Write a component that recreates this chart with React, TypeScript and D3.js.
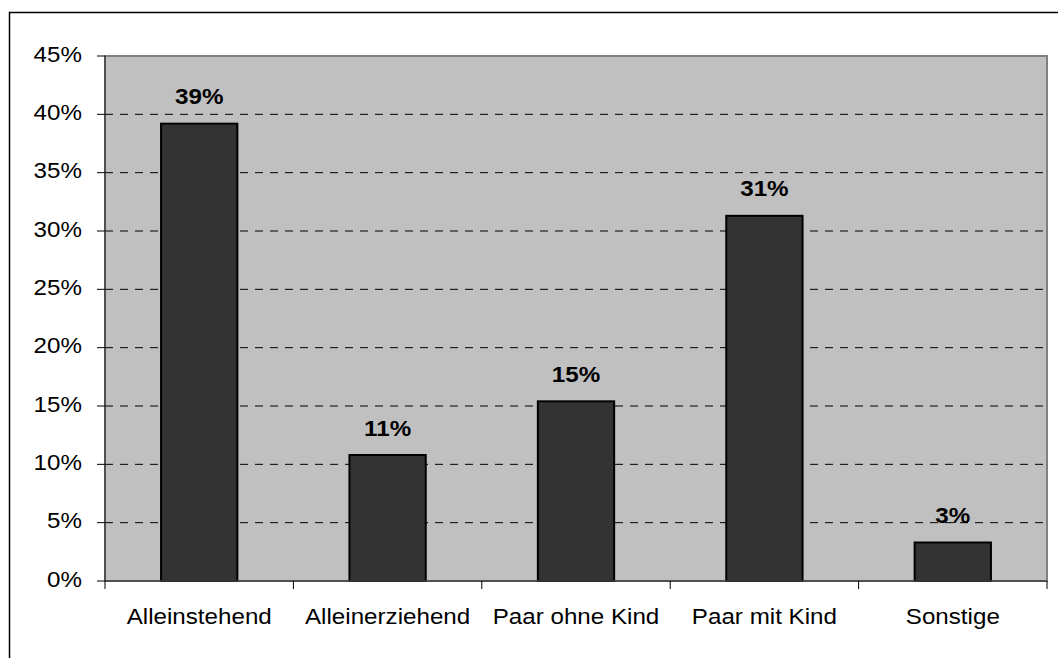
import React from "react";
import * as d3 from "d3";

const categories = ["Alleinstehend", "Alleinerziehend", "Paar ohne Kind", "Paar mit Kind", "Sonstige"];
const values = [39.2, 10.8, 15.4, 31.3, 3.3];
const valueLabels = ["39%", "11%", "15%", "31%", "3%"];
const yTicks = [0, 5, 10, 15, 20, 25, 30, 35, 40, 45];

const W = 1058;
const H = 658;
const left = 105;
const right = 1047;
const top = 56;
const bottom = 581;
const font = "'Liberation Sans', Arial, sans-serif";
const SX = 1.075;

function T(props: { x: number; y: number; anchor: string; bold?: boolean; children: string }) {
  return (
    <text
      transform={`translate(${props.x},${props.y}) scale(${SX},1)`}
      textAnchor={props.anchor}
      fontSize={22.5}
      fontWeight={props.bold ? "bold" : "normal"}
      fill="#000"
    >
      {props.children}
    </text>
  );
}

export default function App() {
  const x = d3.scaleBand<string>().domain(categories).range([left, right]).paddingInner(0).paddingOuter(0);
  const y = d3.scaleLinear().domain([0, 45]).range([bottom, top]);
  const bw = x.bandwidth() * 0.405;

  return (
    <svg width={W} height={H} style={{ position: "absolute", left: 0, top: 0 }} fontFamily={font}>
      <rect x={0} y={0} width={W} height={H} fill="#fff" />
      <rect x={9.5} y={12.5} width={1200} height={800} fill="none" stroke="#000" strokeWidth={1.5} />
      <rect x={left} y={top} width={right - left} height={bottom - top} fill="#c0c0c0" stroke="#808080" strokeWidth={2} />
      {yTicks.filter((t) => t > 0 && t < 45).map((t) => (
        <line key={"g" + t} x1={left} x2={right} y1={y(t)} y2={y(t)} stroke="#000" strokeWidth={1} strokeDasharray="8,7" />
      ))}
      {categories.map((c, i) => {
        const cx = (x(c) as number) + x.bandwidth() / 2;
        return (
          <g key={c}>
            <rect x={cx - bw / 2} y={y(values[i])} width={bw} height={bottom - y(values[i])} fill="#333333" stroke="#000" strokeWidth={2} />
            <T x={cx} y={y(values[i]) - 19.5} anchor="middle" bold>
              {valueLabels[i]}
            </T>
            <T x={cx} y={624} anchor="middle">
              {c}
            </T>
          </g>
        );
      })}
      <line x1={left} x2={left} y1={top} y2={bottom} stroke="#404040" strokeWidth={1.5} />
      <line x1={left} x2={right} y1={bottom} y2={bottom} stroke="#404040" strokeWidth={1.5} />
      {yTicks.map((t) => (
        <g key={"t" + t}>
          <line x1={97} x2={left} y1={y(t)} y2={y(t)} stroke="#000" strokeWidth={1} />
          <T x={82} y={y(t) + 5.5} anchor="end">
            {t + "%"}
          </T>
        </g>
      ))}
      {d3.range(categories.length + 1).map((i) => {
        const xx = left + i * x.bandwidth();
        return <line key={"xt" + i} x1={xx} x2={xx} y1={bottom} y2={bottom + 8} stroke="#000" strokeWidth={1} />;
      })}
    </svg>
  );
}
